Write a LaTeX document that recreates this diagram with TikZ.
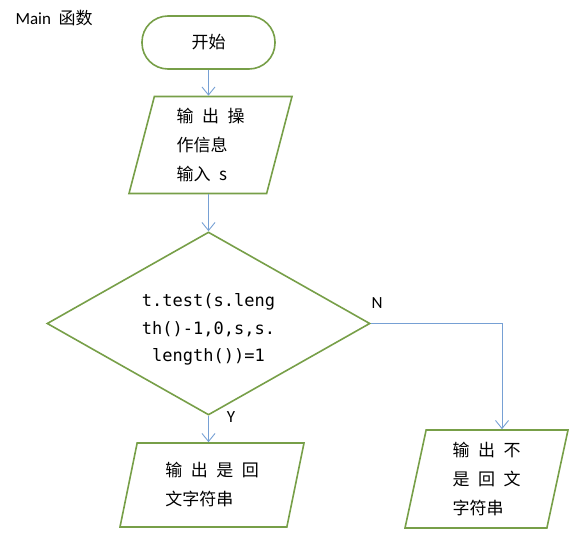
\documentclass[tikz,border=0pt]{standalone}
\usepackage{fontspec}
\setmainfont{Carlito}
\setmonofont{DejaVu Sans Mono}
\newfontfamily\cjk{Noto Sans CJK SC}
\usetikzlibrary{shapes.geometric,arrows.meta}
\definecolor{boxgreen}{RGB}{119,159,72}
\definecolor{linkblue}{RGB}{118,160,212}
\newcommand{\gap}{\hspace{0.5em}}

\begin{document}
\begin{tikzpicture}[x=1pt,y=-1pt,
    every node/.style={font=\cjk\fontsize{17}{29}\selectfont},
    terminal/.style={draw=boxgreen,line width=1.6pt,rounded corners=26pt,
        minimum width=133pt,minimum height=53pt},
    io/.style={draw=boxgreen,line width=1.6pt,trapezium,trapezium stretches body,
        align=left,inner sep=0pt},
    decision/.style={draw=boxgreen,line width=1.6pt,diamond,aspect=1.77,
        minimum width=323pt,minimum height=183pt,inner sep=0pt,align=center,
        font=\ttfamily\fontsize{17}{27.5}\selectfont},
    link/.style={draw=linkblue,line width=0.9pt,-{Straight Barb[length=8pt,width=13pt]}},
    tag/.style={font=\fontsize{17}{20}\selectfont}
]
        \useasboundingbox (0,0) rectangle (572,559);

        % Title
        \node[tag,anchor=west] (title) at (12,18) {Main\ \ {\cjk 函数}};

        % --- Start ---
        \node[terminal] (start) at (208.5,42.5) {开始};

        % --- Read input ---
        \node[io,trapezium left angle=71,trapezium right angle=109,
            minimum width=163pt,minimum height=97pt] (input) at (210.5,145)
            {输\gap 出\gap 操\\作信息\\输入\gap s};

        % --- Test (text sits a little low in the diamond) ---
        \node[decision] (test) at (208.5,323.5)
            {\rule{0pt}{25pt}t.test(s.leng\\th()-1,0,s,s.\\length())=1};

        % --- Outputs ---
        \node[io,trapezium left angle=69,trapezium right angle=111,
            minimum width=184pt,minimum height=84pt] (yes) at (212,485)
            {输\gap 出\gap 是\gap 回\\文字符串};
        \node[io,trapezium left angle=74,trapezium right angle=106,
            minimum width=163pt,minimum height=98pt] (no) at (486.5,479)
            {输\gap 出\gap 不\\是\gap 回\gap 文\\字符串};
        \coordinate (bend) at (502,323.5);

        % Branch labels
        \node[tag] (nlab) at (377,303) {N};
        \node[tag] (ylab) at (231,417) {Y};

        % Connectors
        \draw[link] (start.south) -- (start.south |- input.north);
        \draw[link] (test.north |- input.south) -- (test.north);
        \draw[link] (test.south) -- (test.south |- yes.north);
        \draw[link] (test.east) -- (bend) -- (bend |- no.north);

    \end{tikzpicture}
\end{document}
